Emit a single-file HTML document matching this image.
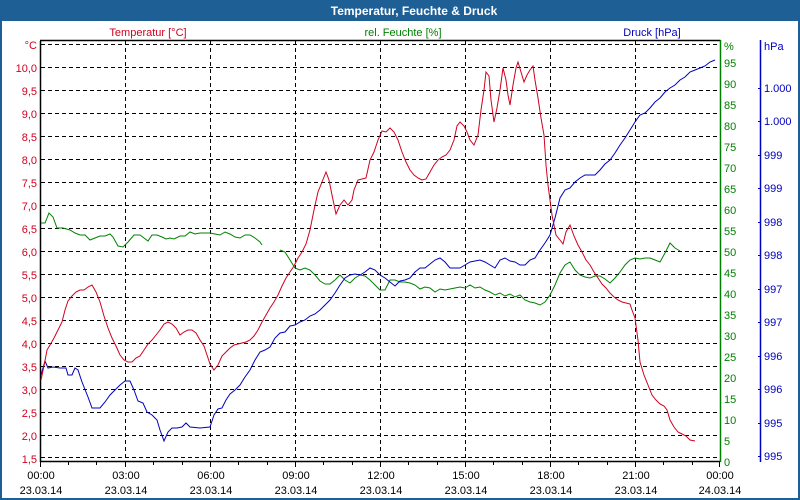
<!DOCTYPE html>
<html><head><meta charset="utf-8"><style>
html,body{margin:0;padding:0;background:#fff}
svg{display:block;font-family:"Liberation Sans",sans-serif}
</style></head><body>
<svg width="800" height="500" viewBox="0 0 800 500" xmlns="http://www.w3.org/2000/svg">
<rect x="0" y="0" width="800" height="500" fill="#1e5f96"/>
<rect x="2" y="21" width="796" height="477" fill="#fff"/>
<text x="414" y="15" font-size="12" font-weight="bold" fill="#fff" text-anchor="middle">Temperatur, Feuchte &amp; Druck</text>
<text x="148" y="36" font-size="11" fill="#d00020" text-anchor="middle">Temperatur [°C]</text>
<text x="403" y="36" font-size="11" fill="#008000" text-anchor="middle">rel. Feuchte [%]</text>
<text x="652" y="36" font-size="11" fill="#0000c0" text-anchor="middle">Druck [hPa]</text>
<g stroke="#000" stroke-width="1" stroke-dasharray="4,3" fill="none">
<path d="M41 44.5H720M41 67.5H720M41 90.5H720M41 113.5H720M41 136.5H720M41 159.5H720M41 182.5H720M41 205.5H720M41 228.5H720M41 251.5H720M41 274.5H720M41 297.5H720M41 320.5H720M41 343.5H720M41 366.5H720M41 389.5H720M41 412.5H720M41 435.5H720M41 457.5H720"/>
<path d="M125.5 41V461M210.5 41V461M295.5 41V461M380.5 41V461M465.5 41V461M550.5 41V461M635.5 41V461"/>
</g>
<path d="M40.5 41V462M40 40.5H720.5" stroke="#000" stroke-width="1.5" fill="none"/>
<path d="M40 461.5H720" stroke="#000" stroke-width="1.5"/>
<g stroke="#000" stroke-width="1"><path d="M68.5 461V465M96.5 461V465M125.5 461V467M153.5 461V465M182.5 461V465M210.5 461V467M238.5 461V465M267.5 461V465M295.5 461V467M323.5 461V465M352.5 461V465M380.5 461V467M408.5 461V465M437.5 461V465M465.5 461V467M493.5 461V465M522.5 461V465M550.5 461V467M578.5 461V465M607.5 461V465M635.5 461V467M663.5 461V465M692.5 461V465M40.5 461V467M719.5 461V467"/></g>
<path d="M720.5 40V462" stroke="#008000" stroke-width="1.5"/>
<path d="M760.5 40V462" stroke="#0000c0" stroke-width="1.5"/>
<g font-size="11" fill="#d00020" text-anchor="end">
<text x="37" y="49">°C</text><text x="37" y="72">10,0</text><text x="37" y="95">9,5</text><text x="37" y="118">9,0</text><text x="37" y="141">8,5</text><text x="37" y="164">8,0</text><text x="37" y="187">7,5</text><text x="37" y="210">7,0</text><text x="37" y="233">6,5</text><text x="37" y="256">6,0</text><text x="37" y="279">5,5</text><text x="37" y="302">5,0</text><text x="37" y="325">4,5</text><text x="37" y="348">4,0</text><text x="37" y="371">3,5</text><text x="37" y="394">3,0</text><text x="37" y="417">2,5</text><text x="37" y="440">2,0</text><text x="37" y="463">1,5</text>
</g>
<g font-size="11" fill="#008000">
<text x="724" y="50">%</text><text x="724" y="67">95</text><text x="724" y="88">90</text><text x="724" y="109">85</text><text x="724" y="130">80</text><text x="724" y="151">75</text><text x="724" y="172">70</text><text x="724" y="193">65</text><text x="724" y="214">60</text><text x="724" y="235">55</text><text x="724" y="256">50</text><text x="724" y="277">45</text><text x="724" y="298">40</text><text x="724" y="319">35</text><text x="724" y="340">30</text><text x="724" y="361">25</text><text x="724" y="382">20</text><text x="724" y="403">15</text><text x="724" y="424">10</text><text x="724" y="445">5</text><text x="724" y="466">0</text>
</g>
<g font-size="11" fill="#0000c0">
<text x="764" y="50">hPa</text><text x="764" y="92">1.000</text><text x="764" y="125">1.000</text><text x="764" y="159">999</text><text x="764" y="192">999</text><text x="764" y="226">998</text><text x="764" y="259">998</text><text x="764" y="293">997</text><text x="764" y="326">997</text><text x="764" y="360">996</text><text x="764" y="393">996</text><text x="764" y="427">995</text><text x="764" y="460">995</text>
</g>
<g stroke="#0000c0" stroke-width="1"><path d="M758 88.5H761M758 121.5H761M758 155.5H761M758 188.5H761M758 222.5H761M758 255.5H761M758 289.5H761M758 322.5H761M758 356.5H761M758 389.5H761M758 423.5H761M758 456.5H761"/></g>
<g font-size="11" fill="#000" text-anchor="middle">
<text x="41" y="479">00:00</text><text x="126" y="479">03:00</text><text x="211" y="479">06:00</text><text x="296" y="479">09:00</text><text x="381" y="479">12:00</text><text x="466" y="479">15:00</text><text x="551" y="479">18:00</text><text x="636" y="479">21:00</text><text x="720" y="479">00:00</text>
<text x="41" y="494">23.03.14</text><text x="126" y="494">23.03.14</text><text x="211" y="494">23.03.14</text><text x="296" y="494">23.03.14</text><text x="381" y="494">23.03.14</text><text x="466" y="494">23.03.14</text><text x="551" y="494">23.03.14</text><text x="636" y="494">23.03.14</text><text x="720" y="494">24.03.14</text>
</g>
<polyline fill="none" stroke="#008000" stroke-width="1" points="41,223 45,223 49,213 53,217 57,228 63,228 70,230 75,233 80,235 85,235 90,240 95,238 100,236 105,236 110,234 113,237 118,246 123,247 128,242 134,235 140,235 144,238 148,241 152,235 157,235 162,237 166,239 170,238 174,239 180,236 185,236 190,232 195,234 200,233 210,233 215,234 220,235 225,232 230,234 235,237 240,238 245,235 250,235 255,238 260,242 262,245"/>
<polyline fill="none" stroke="#008000" stroke-width="1" points="280,250 285,252 290,260 295,268 300,270 305,268 310,270 315,275 320,281 325,284 330,284 335,280 340,275 345,280 350,283 355,278 360,275 365,276 370,280 375,285 380,290 385,290 390,280 395,280 400,282 405,282 410,283 415,285 420,289 425,287 430,288 435,292 440,289 445,290 450,289 455,288 460,287 465,288 470,285 475,288 480,287 485,290 490,292 495,295 500,293 505,296 510,294 515,297 520,295 525,300 530,302 535,303 540,305 545,302 550,295 555,285 560,273 565,265 570,262 575,270 580,275 585,277 590,278 595,276 600,276 605,279 610,283 615,278 620,272 625,265 630,260 635,258 640,259 645,258 650,258 655,260 660,262 665,253 670,243 675,248 680,251"/>
<polyline fill="none" stroke="#0000c0" stroke-width="1" points="41,375 45,361 48,368 53,367 60,368 66,368 68,375 72,375 75,368 78,370 82,382 88,397 92,408 100,408 105,402 110,395 115,390 120,385 125,381 130,381 134,390 138,401 143,403 147,412 152,415 157,420 160,430 164,441 168,432 172,428 177,428 182,427 186,423 190,427 200,428 210,427 214,415 218,409 222,408 226,400 230,394 235,390 240,385 245,377 250,370 255,360 260,352 265,350 270,347 275,338 280,333 285,332 290,326 295,325 300,322 305,320 310,316 315,314 320,310 325,305 330,300 335,293 340,285 345,278 350,275 355,274 360,275 365,272 370,268 375,270 380,275 385,278 390,282 395,286 400,281 405,280 410,278 415,272 420,268 425,268 430,264 435,260 440,258 445,262 450,268 455,268 460,268 465,265 470,262 475,261 480,260 485,262 490,265 495,268 500,260 505,258 510,261 515,262 520,265 525,265 530,260 535,258 540,250 545,243 550,235 555,218 560,198 565,190 570,188 575,182 580,178 585,175 590,175 595,175 600,170 605,164 610,160 615,153 620,145 625,138 630,130 635,122 640,115 645,113 650,108 655,102 660,98 665,92 670,88 675,85 680,80 685,77 690,72 695,70 700,68 705,66 710,62 715,60"/>
<polyline fill="none" stroke="#d00020" stroke-width="1" points="41,380 44,366 47,350 50,345 54,338 58,330 62,322 65,310 68,301 72,296 76,292 80,290 84,290 88,287 92,285 96,292 100,302 104,316 108,328 112,338 116,346 120,355 124,360 128,362 132,362 136,358 140,356 144,350 148,344 152,340 156,335 160,330 164,324 168,322 172,324 176,328 180,335 184,332 188,330 192,330 196,333 200,340 204,346 207,355 210,364 214,370 218,365 222,356 226,352 230,348 234,345 238,344 242,343 246,342 250,340 254,336 258,330 262,322 266,315 270,308 274,302 278,295 282,286 286,278 290,272 294,266 298,258 302,252 306,244 310,230 314,210 318,192 322,182 326,172 329,180 332,195 336,214 340,205 344,200 348,205 352,200 354,190 358,180 362,179 366,178 370,160 374,152 378,140 382,131 386,132 390,128 394,132 398,140 402,152 406,162 410,170 414,175 418,178 422,180 426,179 430,172 434,165 438,160 442,157 446,155 450,150 454,140 457,126 460,122 464,126 467,132 470,140 474,145 478,135 481,110 484,90 486,72 489,76 491,100 494,122 497,108 500,90 503,68 506,80 508,95 510,105 513,85 516,68 518,62 521,72 524,82 527,75 530,70 533,66 535,80 538,98 541,118 544,135 546,165 548,185 550,200 552,215 554,225 556,235 560,240 563,244 566,232 570,225 574,236 578,245 582,252 586,260 590,265 594,272 598,278 602,284 606,288 610,293 614,297 618,300 622,302 626,303 630,304 632,310 635,318 638,340 640,362 644,375 648,385 652,395 656,400 660,404 664,406 667,410 670,420 674,427 678,432 682,434 686,436 690,440 695,441"/>
</svg>
</body></html>
